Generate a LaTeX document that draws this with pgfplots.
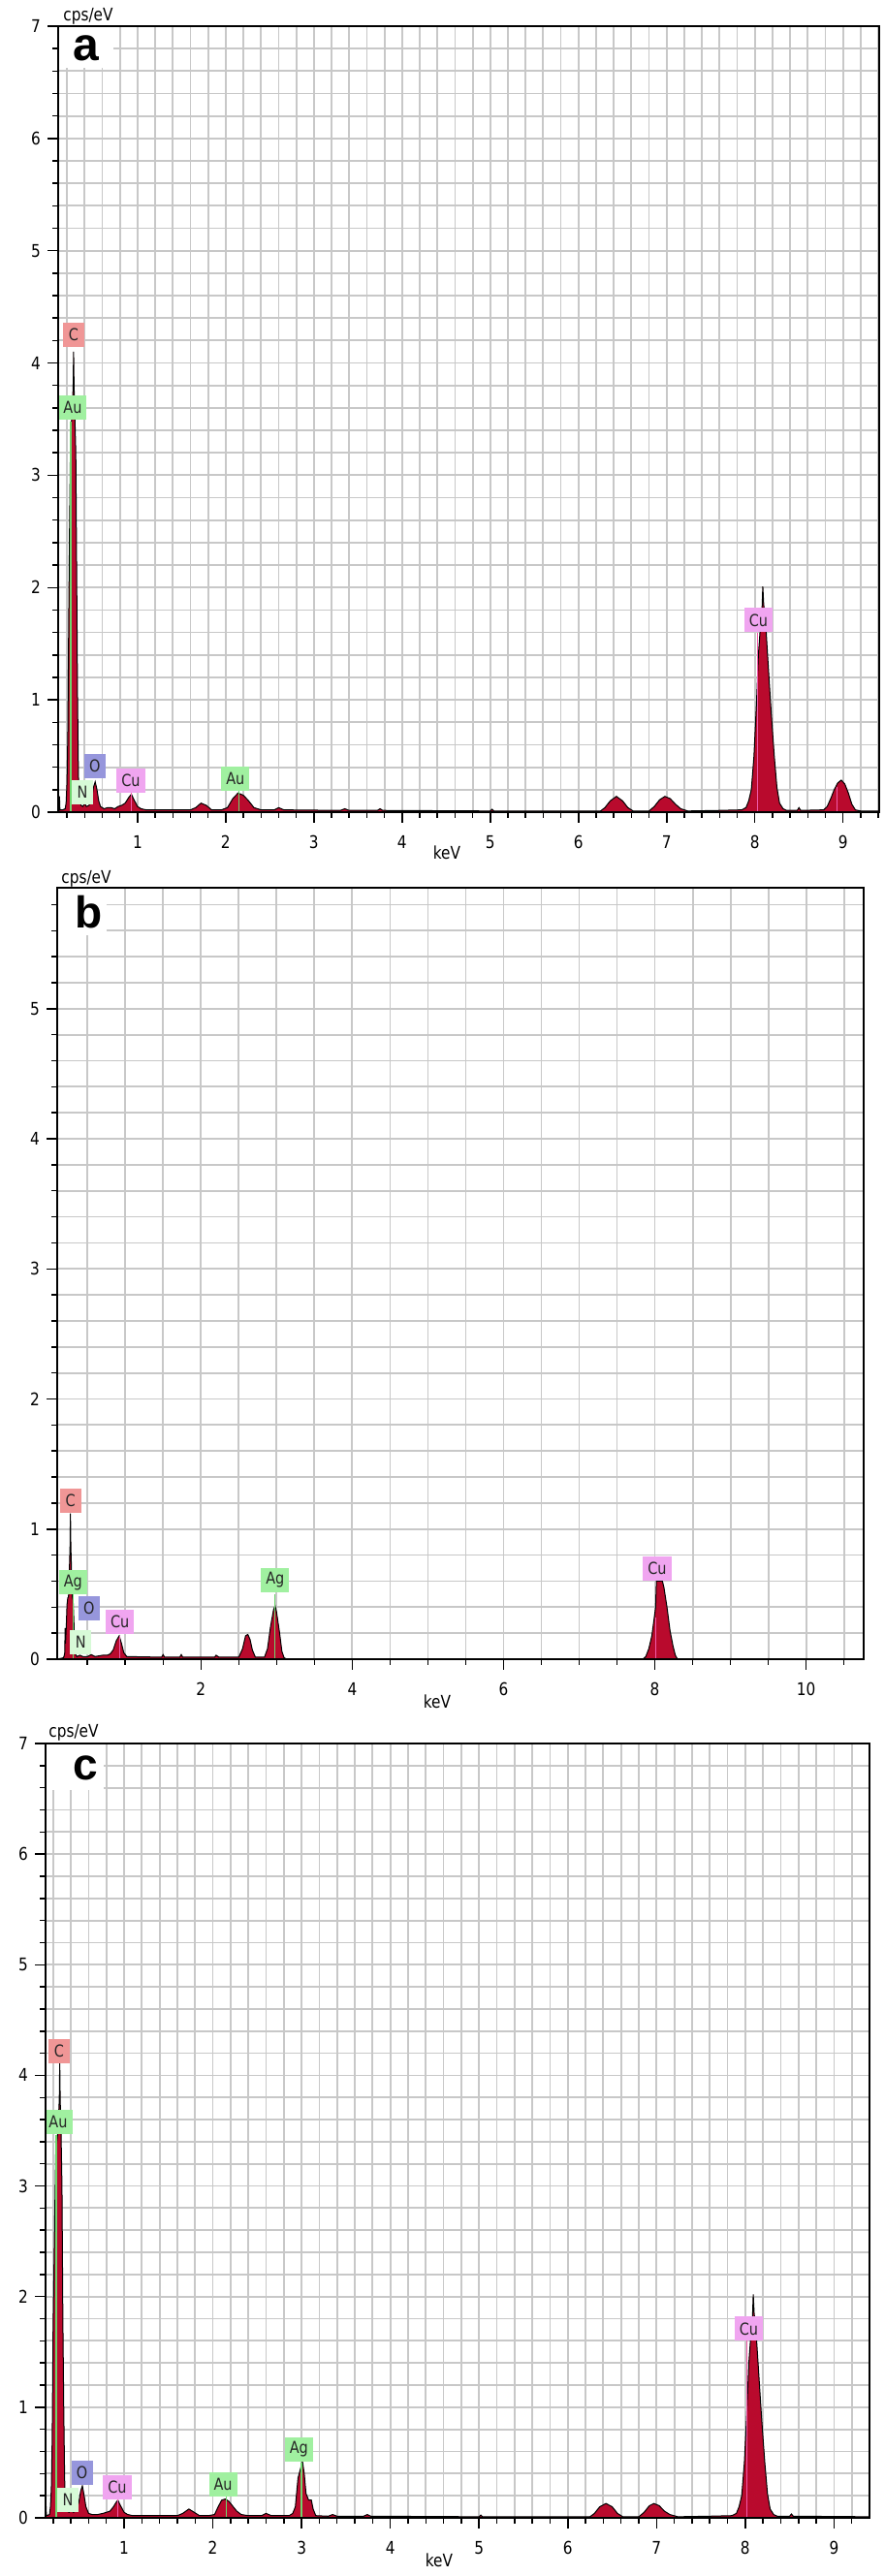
\documentclass[border=0pt]{standalone}
\usepackage{fontspec}
\setmainfont{DejaVu Sans}
\newfontfamily\tah{DejaVu Sans}[FakeStretch=0.85]
\newfontfamily\arial{Liberation Sans}
\usepackage{pgfplots}
\usepackage{pgfplotstable}
\pgfplotsset{compat=1.18}
\usetikzlibrary{calc}
\definecolor{peak}{RGB}{185,10,45}
\definecolor{gridc}{RGB}{200,200,200}
\definecolor{labC}{RGB}{240,150,150}
\definecolor{labG}{RGB}{160,240,160}
\definecolor{labN}{RGB}{215,250,215}
\definecolor{labO}{RGB}{150,150,220}
\definecolor{labCu}{RGB}{240,165,240}
\definecolor{mkpink}{RGB}{240,90,170}
\definecolor{mkgreen}{RGB}{110,215,110}

\pgfplotstableread{
x y
0.10 0.00
0.11 0.00
0.115 0.14
0.12 0.02
0.15 0.02
0.18 0.03
0.19 0.08
0.20 0.26
0.21 0.72
0.22 1.74
0.23 2.60
0.24 3.30
0.25 3.47
0.26 3.60
0.27 3.79
0.275 4.10
0.28 3.79
0.29 3.50
0.30 3.20
0.31 2.10
0.32 1.00
0.33 0.32
0.34 0.12
0.36 0.06
0.38 0.05
0.40 0.08
0.42 0.05
0.45 0.06
0.48 0.12
0.50 0.22
0.52 0.27
0.54 0.20
0.56 0.10
0.58 0.05
0.62 0.03
0.66 0.04
0.70 0.04
0.74 0.03
0.78 0.05
0.82 0.06
0.86 0.08
0.90 0.13
0.93 0.16
0.96 0.11
1.00 0.05
1.04 0.03
1.10 0.02
1.60 0.02
1.66 0.04
1.72 0.08
1.78 0.06
1.84 0.02
1.95 0.02
2.02 0.04
2.08 0.12
2.14 0.17
2.20 0.15
2.26 0.10
2.32 0.04
2.40 0.02
2.55 0.02
2.60 0.04
2.66 0.02
3.30 0.015
3.35 0.03
3.40 0.015
3.72 0.015
3.75 0.03
3.78 0.015
5.00 0.01
5.02 0.025
5.04 0.01
6.25 0.01
6.30 0.04
6.36 0.10
6.43 0.14
6.50 0.10
6.56 0.04
6.62 0.01
6.80 0.01
6.86 0.05
6.92 0.11
6.98 0.14
7.04 0.12
7.10 0.07
7.16 0.03
7.24 0.01
7.60 0.015
7.85 0.02
7.90 0.04
7.93 0.10
7.96 0.20
7.99 0.50
8.02 1.00
8.04 1.40
8.06 1.62
8.08 1.78
8.09 2.01
8.10 1.85
8.12 1.72
8.14 1.45
8.16 1.20
8.18 0.95
8.20 0.72
8.22 0.50
8.25 0.22
8.28 0.08
8.32 0.03
8.36 0.015
8.48 0.015
8.50 0.04
8.52 0.015
8.78 0.02
8.82 0.05
8.86 0.12
8.90 0.20
8.94 0.26
8.98 0.285
9.02 0.25
9.06 0.17
9.10 0.07
9.14 0.02
9.20 0.01
9.41 0.01
}\speca

\pgfplotstableread{
x y
0.10 0.00
0.18 0.01
0.19 0.02
0.20 0.05
0.205 0.24
0.21 0.12
0.22 0.25
0.23 0.42
0.24 0.47
0.25 0.48
0.26 0.66
0.27 0.87
0.275 1.12
0.28 0.87
0.29 0.66
0.30 0.48
0.31 0.45
0.32 0.30
0.33 0.10
0.34 0.04
0.36 0.02
0.40 0.03
0.44 0.02
0.50 0.02
0.55 0.035
0.60 0.02
0.70 0.03
0.76 0.03
0.80 0.04
0.84 0.07
0.88 0.14
0.92 0.18
0.95 0.12
0.98 0.05
1.02 0.02
1.48 0.015
1.50 0.035
1.52 0.015
1.72 0.015
1.74 0.035
1.76 0.015
2.18 0.015
2.20 0.03
2.24 0.015
2.50 0.015
2.55 0.08
2.59 0.18
2.62 0.19
2.65 0.15
2.68 0.07
2.72 0.015
2.84 0.015
2.88 0.08
2.92 0.25
2.96 0.38
2.98 0.41
3.00 0.36
3.04 0.20
3.07 0.06
3.10 0.01
3.14 0.00
7.84 0.00
7.88 0.02
7.92 0.08
7.96 0.18
7.99 0.31
8.01 0.40
8.02 0.60
8.10 0.60
8.12 0.55
8.16 0.40
8.20 0.22
8.24 0.10
8.27 0.03
8.30 0.00
10.76 0.00
}\specb

\pgfplotstableread{
x y
0.115 0.00
0.118 0.15
0.125 0.02
0.16 0.03
0.17 0.10
0.18 0.26
0.19 0.71
0.20 1.72
0.22 2.80
0.23 3.30
0.25 3.46
0.26 3.60
0.27 3.78
0.275 4.12
0.28 3.78
0.29 3.46
0.30 3.00
0.31 1.80
0.32 0.99
0.33 0.35
0.34 0.12
0.36 0.06
0.38 0.05
0.40 0.07
0.43 0.05
0.46 0.07
0.49 0.14
0.51 0.24
0.53 0.29
0.55 0.20
0.57 0.10
0.60 0.04
0.64 0.03
0.70 0.03
0.76 0.04
0.80 0.05
0.84 0.06
0.88 0.10
0.91 0.14
0.93 0.16
0.96 0.11
1.00 0.05
1.04 0.03
1.10 0.02
1.60 0.02
1.66 0.04
1.73 0.08
1.79 0.05
1.85 0.02
1.95 0.02
2.02 0.03
2.06 0.10
2.10 0.16
2.14 0.17
2.18 0.15
2.22 0.11
2.27 0.06
2.32 0.03
2.40 0.02
2.55 0.02
2.60 0.04
2.66 0.02
2.80 0.02
2.86 0.02
2.90 0.04
2.93 0.10
2.96 0.36
2.99 0.45
3.01 0.51
3.03 0.40
3.05 0.22
3.08 0.16
3.11 0.16
3.13 0.08
3.16 0.02
3.30 0.015
3.35 0.03
3.40 0.015
3.70 0.015
3.74 0.03
3.78 0.015
5.00 0.01
5.02 0.025
5.04 0.01
6.25 0.01
6.30 0.04
6.36 0.10
6.43 0.13
6.50 0.10
6.56 0.04
6.62 0.01
6.80 0.01
6.86 0.05
6.92 0.11
6.97 0.13
7.03 0.11
7.09 0.06
7.15 0.03
7.24 0.01
7.60 0.015
7.85 0.02
7.90 0.04
7.93 0.10
7.96 0.20
7.99 0.50
8.02 1.00
8.04 1.40
8.06 1.62
8.08 1.78
8.09 2.02
8.10 1.85
8.12 1.70
8.14 1.45
8.16 1.20
8.18 0.95
8.20 0.72
8.22 0.50
8.25 0.22
8.28 0.08
8.32 0.03
8.36 0.015
8.50 0.015
8.52 0.035
8.54 0.015
9.40 0.01
}\specc

\pgfplotsset{
 eds/.style={
  scale only axis, anchor=south west,
  ymin=0,
  axis line style={line width=1pt},
  tick align=outside, tick pos=left,
  major tick length=5.5pt, minor tick length=3pt,
  tick style={black, line width=0.75pt},
  minor tick style={black, line width=0.75pt},
  grid=both,
  major grid style={gridc, line width=0.9pt},
  minor grid style={gridc, line width=0.9pt},
  tick label style={font=\tah\fontsize{9pt}{10pt}\selectfont},
  xticklabel style={yshift=-3pt},
  /pgf/number format/assume math mode=true,
  ytick={0,1,2,3,4,5,6,7},
  minor ytick={0.2,0.4,0.6,0.8,1.2,1.4,1.6,1.8,2.2,2.4,2.6,2.8,3.2,3.4,3.6,3.8,4.2,4.4,4.6,4.8,5.2,5.4,5.6,5.8,6.2,6.4,6.6,6.8},
 },
 spec/.style={fill=peak, draw=black, line width=0.5pt},
 mk/.style={draw=#1, line width=0.7pt},
}
\tikzset{
 lab/.style={fill=#1, text=black!85, font=\tah\fontsize{8.5pt}{9pt}\selectfont,
   inner xsep=2.5pt, inner ysep=0pt, minimum height=12.5pt, minimum width=11pt},
}

\begin{document}
\begin{tikzpicture}
\path[use as bounding box] (0,0) rectangle (456.5pt,1329pt);
\fill[white] (0,0) rectangle (456.5pt,1329pt);

% ---------------- panel a ----------------
\begin{axis}[eds, at={(30pt,910pt)}, width=423.5pt, height=405.5pt,
  xmin=0.1, xmax=9.41, ymax=7,
  xtick={1,2,3,4,5,6,7,8,9},
  minor xtick={0.2,0.4,0.6,0.8,1.2,1.4,1.6,1.8,2.2,2.4,2.6,2.8,3.2,3.4,3.6,3.8,4.2,4.4,4.6,4.8,5.2,5.4,5.6,5.8,6.2,6.4,6.6,6.8,7.2,7.4,7.6,7.8,8.2,8.4,8.6,8.8,9.2,9.4}]
\fill[white] ($(rel axis cs:0,1)+(0.5pt,-0.5pt)$) rectangle ($(rel axis cs:0,1)+(28.5pt,-21.5pt)$);
\addplot[spec] table[x=x,y=y] {\speca} \closedcycle;
\addplot[mk=mkgreen] coordinates {(0.245,0) (0.245,3.48)};
\addplot[mk=mkpink] coordinates {(0.93,0) (0.93,0.17)};
\addplot[mk=mkgreen] coordinates {(2.15,0) (2.15,0.2)};
\addplot[mk=mkpink] coordinates {(8.03,0) (8.03,1.6)};
\addplot[mk=mkpink] coordinates {(8.93,0) (8.93,0.22)};
\node[lab=labC] at (axis cs:0.275,4.25) {C};
\node[lab=labG] at (axis cs:0.264,3.60) {Au};
\node[lab=labN] at (axis cs:0.374,0.18) {N};
\node[lab=labO] at (axis cs:0.516,0.41) {O};
\node[lab=labCu] at (axis cs:0.923,0.28) {Cu};
\node[lab=labG] at (axis cs:2.11,0.30) {Au};
\node[lab=labCu] at (axis cs:8.04,1.71) {Cu};
\draw[line width=1pt] (rel axis cs:0,0) rectangle (rel axis cs:1,1);
\node[anchor=base west, inner sep=0pt, font=\arial\bfseries\fontsize{24pt}{24pt}\selectfont] at ($(rel axis cs:0,1)+(7.5pt,-18pt)$) {a};
\end{axis}

% ---------------- panel b ----------------
\begin{axis}[eds, at={(29.5pt,473pt)}, width=416pt, height=398pt,
  xmin=0.1, xmax=10.76, ymax=5.93,
  xtick={2,4,6,8,10},
  minor xtick={0.5,1,1.5,2.5,3,3.5,4.5,5,5.5,6.5,7,7.5,8.5,9,9.5,10.5}]
\fill[white] ($(rel axis cs:0,1)+(0.5pt,-0.5pt)$) rectangle ($(rel axis cs:0,1)+(25.5pt,-24.5pt)$);
\addplot[spec] table[x=x,y=y] {\specb} \closedcycle;
\addplot[mk=mkgreen] coordinates {(0.31,0) (0.31,0.5)};
\addplot[mk=mkpink] coordinates {(0.93,0) (0.93,0.18)};
\addplot[mk=mkgreen] coordinates {(2.98,0) (2.98,0.5)};
\addplot[mk=mkpink] coordinates {(8.01,0) (8.01,0.32)};
\node[lab=labC] at (axis cs:0.275,1.22) {C};
\node[lab=labG] at (axis cs:0.31,0.59) {Ag};
\node[lab=labO] at (axis cs:0.52,0.39) {O};
\node[lab=labCu] at (axis cs:0.93,0.29) {Cu};
\node[lab=labN] at (axis cs:0.41,0.13) {N};
\node[lab=labG] at (axis cs:2.98,0.61) {Ag};
\node[lab=labCu] at (axis cs:8.03,0.70) {Cu};
\draw[line width=1pt] (rel axis cs:0,0) rectangle (rel axis cs:1,1);
\node[anchor=base west, inner sep=0pt, font=\arial\bfseries\fontsize{23pt}{23pt}\selectfont] at ($(rel axis cs:0,1)+(9pt,-21pt)$) {b};
\end{axis}

% ---------------- panel c ----------------
\begin{axis}[eds, at={(23.5pt,30pt)}, width=425pt, height=399.5pt,
  xmin=0.115, xmax=9.40, ymax=7,
  xtick={1,2,3,4,5,6,7,8,9},
  minor xtick={0.2,0.4,0.6,0.8,1.2,1.4,1.6,1.8,2.2,2.4,2.6,2.8,3.2,3.4,3.6,3.8,4.2,4.4,4.6,4.8,5.2,5.4,5.6,5.8,6.2,6.4,6.6,6.8,7.2,7.4,7.6,7.8,8.2,8.4,8.6,8.8,9.2}]
\fill[white] ($(rel axis cs:0,1)+(0.5pt,-0.5pt)$) rectangle ($(rel axis cs:0,1)+(30pt,-24pt)$);
\addplot[spec] table[x=x,y=y] {\specc} \closedcycle;
\addplot[mk=mkgreen] coordinates {(0.235,0) (0.235,3.46)};
\addplot[mk=mkpink] coordinates {(0.93,0) (0.93,0.17)};
\addplot[mk=mkgreen] coordinates {(2.15,0) (2.15,0.2)};
\addplot[mk=mkgreen] coordinates {(3.0,0) (3.0,0.5)};
\addplot[mk=mkpink] coordinates {(8.02,0) (8.02,1.6)};
\node[lab=labC] at (axis cs:0.268,4.22) {C};
\node[lab=labG] at (axis cs:0.257,3.58) {Au};
\node[lab=labN] at (axis cs:0.366,0.16) {N};
\node[lab=labO] at (axis cs:0.525,0.41) {O};
\node[lab=labCu] at (axis cs:0.923,0.28) {Cu};
\node[lab=labG] at (axis cs:2.115,0.30) {Au};
\node[lab=labG] at (axis cs:2.97,0.62) {Ag};
\node[lab=labCu] at (axis cs:8.04,1.71) {Cu};
\draw[line width=1pt] (rel axis cs:0,0) rectangle (rel axis cs:1,1);
\node[anchor=base west, inner sep=0pt, font=\arial\bfseries\fontsize{23pt}{23pt}\selectfont] at ($(rel axis cs:0,1)+(14pt,-19pt)$) {c};
\end{axis}

% axis captions
\node[anchor=base west, inner sep=0pt, font=\tah\fontsize{9pt}{10pt}\selectfont] at (32.5pt,1318pt) {cps/eV};
\node[anchor=base west, inner sep=0pt, font=\tah\fontsize{9pt}{10pt}\selectfont] at (31.5pt,873pt) {cps/eV};
\node[anchor=base west, inner sep=0pt, font=\tah\fontsize{9pt}{10pt}\selectfont] at (25pt,432.5pt) {cps/eV};
\node[inner sep=0pt, font=\tah\fontsize{9pt}{10pt}\selectfont] at (230.5pt,889pt) {keV};
\node[inner sep=0pt, font=\tah\fontsize{9pt}{10pt}\selectfont] at (225.5pt,451pt) {keV};
\node[inner sep=0pt, font=\tah\fontsize{9pt}{10pt}\selectfont] at (226.5pt,8pt) {keV};
\end{tikzpicture}
\end{document}
